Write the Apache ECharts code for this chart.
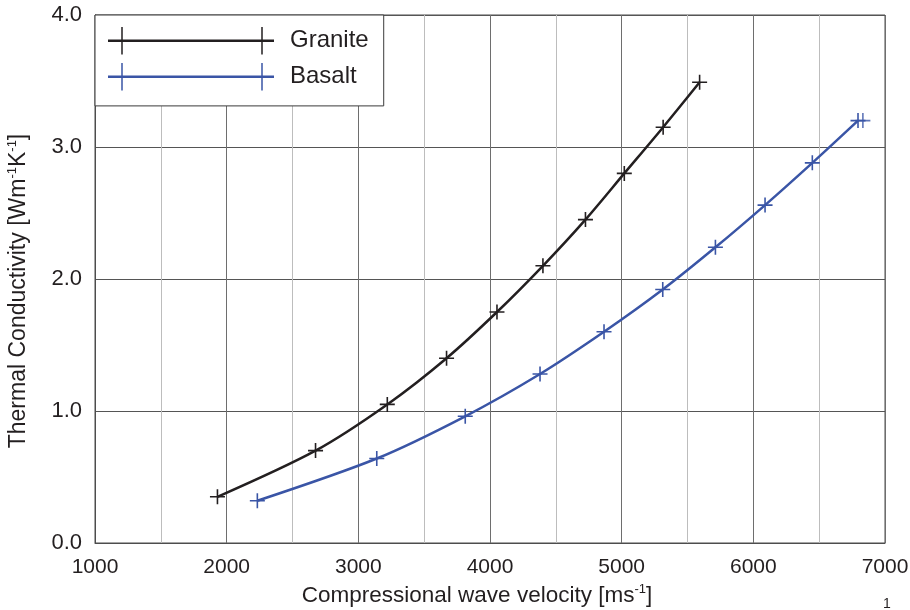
<!DOCTYPE html>
<html>
<head>
<meta charset="utf-8">
<script src="https://cdn.jsdelivr.net/npm/echarts@6/dist/echarts.min.js"></script>
<style>
  html, body { margin: 0; padding: 0; background: #ffffff; }
  #chart { width: 910px; height: 610px; }
</style>
</head>
<body>
<div id="chart"></div>
<script>
// Thermal conductivity vs. compressional wave velocity for two rock types
const seriesNames = ['Granite', 'Basalt'];

const graniteVelocity     = [1930, 2675, 3220, 3670, 4053, 4402, 4725, 5020, 5315, 5592];
const graniteConductivity = [0.35, 0.70, 1.05, 1.40, 1.75, 2.10, 2.45, 2.80, 3.15, 3.49];

const basaltVelocity      = [2233, 3140, 3812, 4380, 4866, 5312, 5712, 6089, 6448, 6795];
const basaltConductivity  = [0.32, 0.64, 0.96, 1.28, 1.60, 1.92, 2.24, 2.56, 2.88, 3.20];

// repeated basalt reading plotted just beyond the last point of the curve
const basaltRepeatVelocity     = [6832];
const basaltRepeatConductivity = [3.20];

const xRange = [1000, 7000];
const xStep = 1000;
const yRange = [0, 4];
const yStep = 1;

const FONT = '"Liberation Sans", Arial, Helvetica, sans-serif';
const INK = '#231f20';
const GRANITE_COLOR = '#231f20';
const BASALT_COLOR = '#3a55a6';

const plusSymbol = 'path://M7,0V14M0,7H14';
const legendIcon = 'path://M0,12.5H166V15H0Z M13.25,0H14.75V27.5H13.25Z M153.25,0H154.75V27.5H153.25Z';

function pairs(xs, ys) {
  return xs.map((x, i) => [x, ys[i]]);
}

function makeSeries(name, xs, ys, color) {
  return {
    name: name,
    type: 'line',
    data: pairs(xs, ys),
    smooth: 0.3,
    symbol: plusSymbol,
    symbolSize: 15,
    showSymbol: true,
    lineStyle: { color: color, width: 2.5 },
    itemStyle: { color: color, borderColor: color, borderWidth: 1.6 },
    emphasis: { disabled: true },
    animation: false,
    z: 3
  };
}

const chart = echarts.init(document.getElementById('chart'), null, { renderer: 'canvas' });

chart.setOption({
  backgroundColor: '#ffffff',
  animation: false,
  textStyle: { fontFamily: FONT, color: INK },
  grid: {
    left: 95, right: 25, top: 15, bottom: 67,
    outerBoundsMode: 'none',
    containLabel: false,
    show: true, borderColor: '#4d4d4d', borderWidth: 1, backgroundColor: 'transparent'
  },
  legend: {
    show: true,
    orient: 'vertical',
    left: 95, top: 15,
    padding: [12, 15, 15.5, 13],
    itemGap: 8.4,
    itemWidth: 166,
    itemHeight: 27.5,
    icon: legendIcon,
    itemStyle: { borderWidth: 0 },
    selectedMode: false,
    backgroundColor: '#ffffff',
    borderColor: '#3a3a3a',
    borderWidth: 1,
    z: 10,
    textStyle: { fontFamily: FONT, fontSize: 24, color: INK, padding: [0, 0, 0, 11] },
    data: seriesNames
  },
  xAxis: {
    type: 'value',
    min: xRange[0], max: xRange[1], interval: xStep,
    name: '{a|Compressional wave velocity [ms}{s|-1}{a|]}',
    nameLocation: 'middle',
    nameGap: 36,
    nameTextStyle: {
      padding: [0, 26, 0, 0],
      rich: {
        a: { fontFamily: FONT, fontSize: 22.5, color: INK, lineHeight: 26 },
        s: { fontFamily: FONT, fontSize: 13, color: INK, lineHeight: 26, verticalAlign: 'top', padding: [0, 0, 10, 0] }
      }
    },
    axisLine: { show: true, lineStyle: { color: '#4d4d4d', width: 1 } },
    axisTick: { show: false },
    axisLabel: {
      fontFamily: FONT, fontSize: 21, color: INK, margin: 14,
      formatter: (v) => String(v)
    },
    splitLine: { show: true, lineStyle: { color: '#6e6e6e', width: 1 } },
    minorTick: { show: false, splitNumber: 2 },
    minorSplitLine: { show: true, lineStyle: { color: '#bdbdbd', width: 1 } }
  },
  yAxis: {
    type: 'value',
    min: yRange[0], max: yRange[1], interval: yStep,
    name: '{a|Thermal Conductivity [Wm}{s|-1}{a|K}{s|-1}{a|]}',
    nameLocation: 'middle',
    nameRotate: 90,
    nameGap: 63,
    nameTextStyle: {
      padding: [0, 24, 0, 0],
      rich: {
        a: { fontFamily: FONT, fontSize: 23, color: INK, lineHeight: 26 },
        s: { fontFamily: FONT, fontSize: 13, color: INK, lineHeight: 26, verticalAlign: 'top', padding: [0, 0, 10, 0] }
      }
    },
    axisLine: { show: true, lineStyle: { color: '#4d4d4d', width: 1 } },
    axisTick: { show: false },
    axisLabel: {
      fontFamily: FONT, fontSize: 22, color: INK, margin: 13,
      formatter: (v) => v.toFixed(1)
    },
    splitLine: { show: true, lineStyle: { color: '#555555', width: 1 } }
  },
  graphic: [
    {
      type: 'text',
      left: 883, top: 597,
      style: { text: '1', fontFamily: FONT, fontSize: 14, fill: INK }
    }
  ],
  series: [
    makeSeries(seriesNames[0], graniteVelocity, graniteConductivity, GRANITE_COLOR),
    makeSeries(seriesNames[1], basaltVelocity, basaltConductivity, BASALT_COLOR),
    {
      name: 'Basalt repeat',
      type: 'scatter',
      data: pairs(basaltRepeatVelocity, basaltRepeatConductivity),
      symbol: plusSymbol,
      symbolSize: 15,
      itemStyle: { color: BASALT_COLOR, borderColor: BASALT_COLOR, borderWidth: 1.6 },
      emphasis: { disabled: true },
      silent: true,
      z: 3
    }
  ]
});
</script>
</body>
</html>
